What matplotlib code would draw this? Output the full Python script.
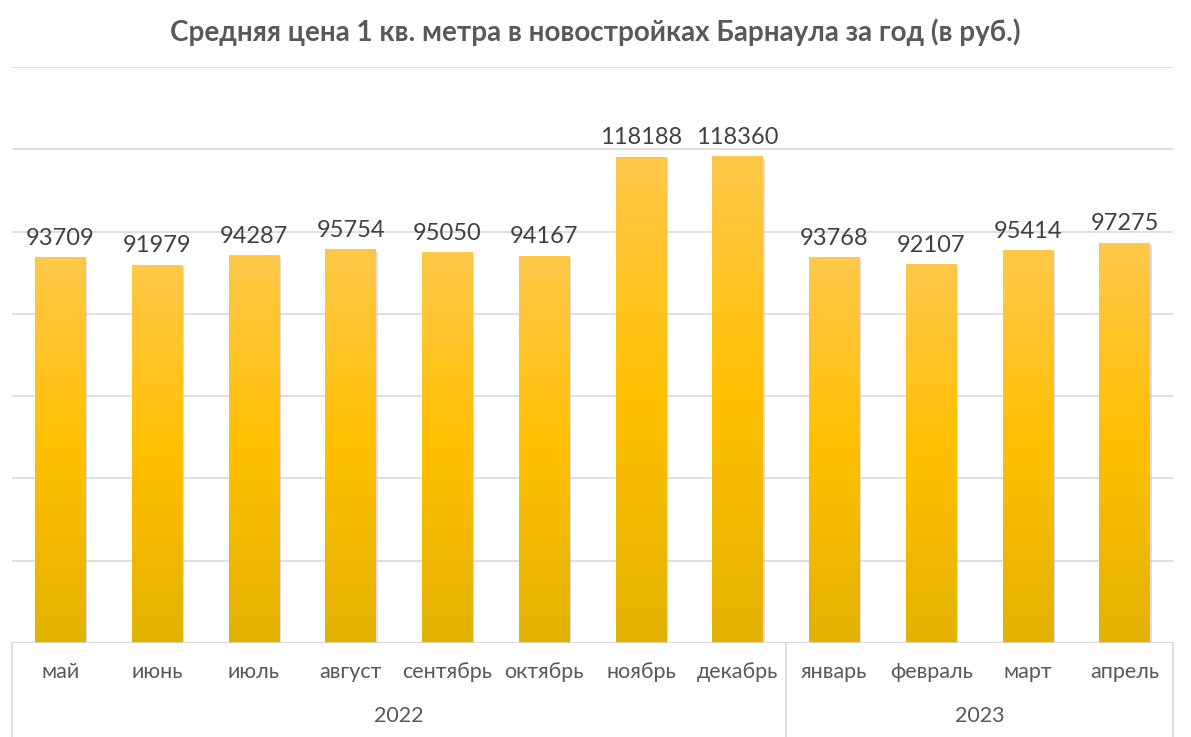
import numpy as np
import matplotlib
matplotlib.use('Agg')
import matplotlib.pyplot as plt
from matplotlib.colors import LinearSegmentedColormap

# Data
months = ['май', 'июнь', 'июль', 'август', 'сентябрь', 'октябрь', 'ноябрь', 'декабрь',
          'январь', 'февраль', 'март', 'апрель']
prices = [93709, 91979, 94287, 95754, 95050, 94167, 118188, 118360,
          93768, 92107, 95414, 97275]
years = ['2022', '2023']
year_counts = [8, 4]

plt.rcParams['font.family'] = ['Lato', 'DejaVu Sans']

fig = plt.figure(figsize=(11.91, 7.37), dpi=100)
ax = fig.add_axes([12 / 1191, 94 / 737, 1161 / 1191, 576 / 737])

x = np.arange(len(months))
bars = ax.bar(x, prices, width=0.52, color='none', edgecolor='none', zorder=3)

# gradient fill: light at top, darker at bottom
cmap = LinearSegmentedColormap.from_list('gold', ['#e3b200', '#ffc000', '#ffc84a'])
grad = np.linspace(0, 1, 256).reshape(-1, 1)
for b in bars:
    x0, w, h = b.get_x(), b.get_width(), b.get_height()
    # soft shadow
    ax.bar(x0 + w / 2 + 0.02, h, width=w, bottom=-600, color='#c8c8c8', alpha=0.6, zorder=2)
    im = ax.imshow(grad, cmap=cmap, origin='lower', aspect='auto',
                   extent=[x0, x0 + w, 0, h], zorder=3)
    im.set_clip_path(b)

for xi, v in zip(x, prices):
    ax.annotate(str(v), (xi, v), xytext=(0, 6), textcoords='offset points',
                ha='center', va='bottom', fontsize=17, color='#404040')

ax.set_xlim(-0.5, len(months) - 0.5)
ax.set_ylim(0, 140000)
ax.set_yticks(np.arange(0, 140001, 20000))
ax.yaxis.grid(True, color='#d9d9d9', linewidth=1.2, zorder=0)
ax.set_yticklabels([])
ax.tick_params(left=False, bottom=False, labelbottom=False)
for s in ax.spines.values():
    s.set_visible(False)
ax.axhline(0, color='#d9d9d9', linewidth=1.2, zorder=4)

# two-level category axis
tr = ax.get_xaxis_transform()
for xi, m in zip(x, months):
    ax.text(xi, -0.05, m, transform=tr, ha='center', va='center', fontsize=15.5, color='#595959')
start = -0.5
for yr, n in zip(years, year_counts):
    ax.text(start + n / 2, -0.127, yr, transform=tr, ha='center', va='center',
            fontsize=15.5, color='#595959')
    ax.plot([start, start], [0, -0.2], transform=tr, color='#d9d9d9', linewidth=1.2, clip_on=False)
    start += n
ax.plot([start, start], [0, -0.2], transform=tr, color='#d9d9d9', linewidth=1.2, clip_on=False)

fig.text(0.5, 1 - 32 / 737, 'Средняя цена 1 кв. метра в новостройках Барнаула за год (в руб.)',
         ha='center', va='center', fontsize=20, fontweight='bold', color='#595959')

fig.savefig('out.png', dpi=100)
